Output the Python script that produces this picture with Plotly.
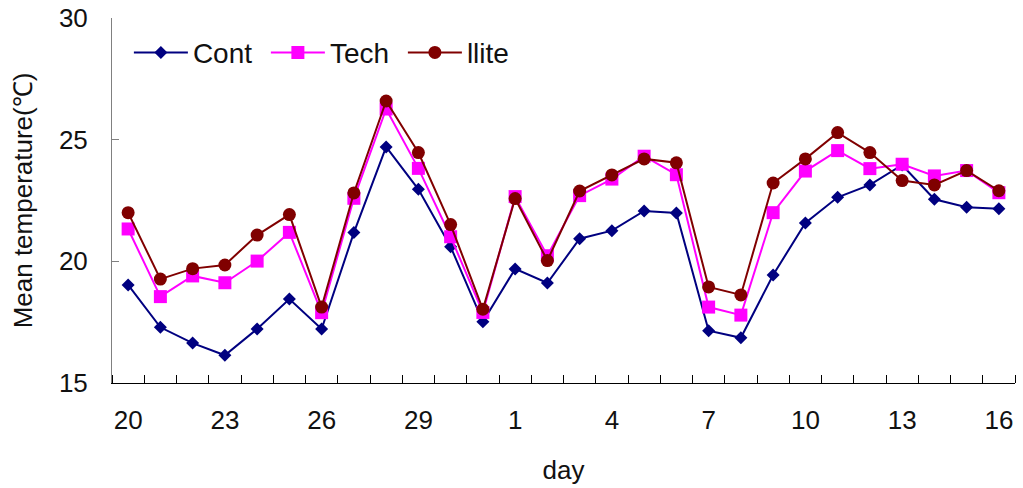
import plotly.graph_objects as go

days = ["20", "21", "22", "23", "24", "25", "26", "27", "28", "29", "30", "31",
        "1", "2", "3", "4", "5", "6", "7", "8", "9", "10", "11", "12", "13", "14", "15", "16"]

cont = [19.03, 17.29, 16.64, 16.14, 17.22, 18.45, 17.22, 21.18, 24.70, 22.96,
        20.60, 17.52, 19.69, 19.11, 20.93, 21.26, 22.07, 21.99, 17.15, 16.86,
        19.44, 21.58, 22.63, 23.14, 23.96, 22.55, 22.22, 22.16]
tech = [21.33, 18.55, 19.40, 19.12, 20.01, 21.19, 17.89, 22.59, 26.26, 23.82,
        21.01, 17.90, 22.66, 20.23, 22.70, 23.38, 24.32, 23.56, 18.12, 17.79,
        22.00, 23.71, 24.55, 23.81, 23.99, 23.51, 23.73, 22.82]
ilite = [22.00, 19.27, 19.70, 19.85, 21.08, 21.92, 18.12, 22.81, 26.59, 24.47,
         21.51, 18.03, 22.58, 20.03, 22.89, 23.55, 24.21, 24.05, 18.95, 18.62,
         23.22, 24.21, 25.29, 24.47, 23.32, 23.14, 23.73, 22.90]

label_every = 3
y_ticks = [15, 20, 25, 30]

FONT = "Liberation Sans, Arial, sans-serif"
idx = list(range(len(days)))

fig = go.Figure()
series = [
    ("Cont", cont, "#000080", "diamond", 10),
    ("Tech", tech, "#FF00FF", "square", 13),
    ("llite", ilite, "#800000", "circle", 13),
]
for name, vals, color, sym, size in series:
    fig.add_trace(go.Scatter(
        x=idx, y=vals, name=name, mode="lines+markers",
        line=dict(color=color, width=2),
        marker=dict(color=color, symbol=sym, size=size),
    ))

fig.update_layout(
    width=1023, height=488,
    margin=dict(l=112, r=8, t=18, b=105),
    paper_bgcolor="white", plot_bgcolor="white",
    font=dict(family=FONT, size=26, color="#111111"),
    showlegend=True,
    legend=dict(
        orientation="h", x=0.0187, y=0.905, xanchor="left", yanchor="middle",
        font=dict(size=28), bgcolor="rgba(0,0,0,0)",
        entrywidth=68, entrywidthmode="pixels", itemwidth=54,
    ),
)

fig.update_xaxes(
    range=[-0.5, len(days) - 0.5],
    automargin=False,
    tickmode="array",
    tickvals=idx[::label_every],
    ticktext=days[::label_every],
    ticks="", showgrid=False, zeroline=False,
    showline=True, linecolor="#000000", linewidth=1,
    ticklabelstandoff=14,
    tickfont=dict(size=26),
    minor=dict(ticks="inside", tick0=-0.5, dtick=1, ticklen=8,
               tickcolor="#000000", tickwidth=1, showgrid=False),
    title=dict(text="day", font=dict(size=26), standoff=26),
)
fig.update_yaxes(
    range=[15, 30],
    automargin=False,
    tickmode="array", tickvals=y_ticks,
    ticks="inside", ticklen=7, tickcolor="#808080", tickwidth=1,
    showgrid=False, zeroline=False,
    showline=True, linecolor="#808080", linewidth=1,
    ticklabelstandoff=18,
    tickfont=dict(size=26),
    title=dict(text="Mean temperature(℃)", font=dict(size=26), standoff=18),
)

fig.write_html("out.html")
